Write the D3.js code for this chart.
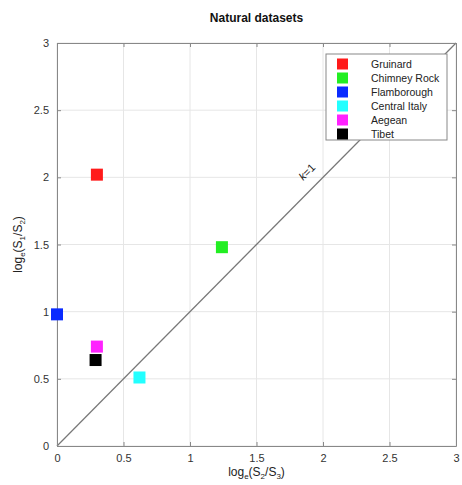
<!DOCTYPE html>
<html>
<head>
<meta charset="utf-8">
<script src="https://cdn.jsdelivr.net/npm/d3@7"></script>
<style>
	body { margin: 0; background: #fff; }
	text { font-family: "Liberation Sans", Arial, Helvetica, sans-serif; }
</style>
</head>
<body>
<div id="chart"></div>
<script>
// datasets and their log ratios
const names = ["Gruinard", "Chimney Rock", "Flamborough", "Central Italy", "Aegean", "Tibet"];
const colors = ["#ff1a1a", "#22ee22", "#0a2bff", "#22ffff", "#ff22ff", "#000000"];
const xVals = [0.30, 1.24, 0.00, 0.62, 0.30, 0.29];   // log_e(S2/S3)
const yVals = [2.02, 1.48, 0.98, 0.51, 0.74, 0.64];   // log_e(S1/S2)
const ticks = [0, 0.5, 1, 1.5, 2, 2.5, 3];

let dims = {width: 462, height: 485, margin: {left: 57, top: 43, right: 6, bottom: 39}};
let w = dims.width - dims.margin.left - dims.margin.right;
let h = dims.height - dims.margin.top - dims.margin.bottom;

let xScale = d3.scaleLinear().domain([0, 3]).range([0, w]);
let yScale = d3.scaleLinear().domain([0, 3]).range([h, 0]);

let svg = d3.select("#chart").append("svg")
	.attr("width", dims.width)
	.attr("height", dims.height);

let g = svg.append("g")
	.attr("transform", `translate(${dims.margin.left},${dims.margin.top})`);

// grid
g.append("g").selectAll("line.gx").data(ticks).enter().append("line")
	.attr("x1", d => xScale(d)).attr("x2", d => xScale(d))
	.attr("y1", 0).attr("y2", h)
	.attr("stroke", "#e6e6e6");
g.append("g").selectAll("line.gy").data(ticks).enter().append("line")
	.attr("y1", d => yScale(d)).attr("y2", d => yScale(d))
	.attr("x1", 0).attr("x2", w)
	.attr("stroke", "#e6e6e6");

// k=1 line
g.append("line")
	.attr("x1", xScale(0)).attr("y1", yScale(0))
	.attr("x2", xScale(3)).attr("y2", yScale(3))
	.attr("stroke", "#777").attr("stroke-width", 1.2);

let kx = xScale(1.9), ky = yScale(2.02);
let kt = g.append("text")
	.attr("transform", `translate(${kx},${ky}) rotate(-45)`)
	.attr("text-anchor", "middle")
	.attr("font-size", 11)
	.attr("fill", "#222");
kt.append("tspan").attr("font-style", "italic").text("k");
kt.append("tspan").text("=1");

// axes (MATLAB style, inward ticks, box on)
let axisStyle = sel => {
	sel.select(".domain").attr("stroke", "#888");
	sel.selectAll(".tick line").attr("stroke", "#888");
	sel.selectAll(".tick text").attr("fill", "#333").attr("font-size", 11);
};
let fmt = d3.format("~g");
g.append("g").attr("transform", `translate(0,${h})`)
	.call(d3.axisBottom(xScale).tickValues(ticks).tickFormat(fmt).tickSizeInner(-4).tickSizeOuter(0).tickPadding(8))
	.call(axisStyle);
g.append("g")
	.call(d3.axisLeft(yScale).tickValues(ticks).tickFormat(fmt).tickSizeInner(-4).tickSizeOuter(0).tickPadding(8))
	.call(axisStyle);
g.append("g")
	.call(d3.axisTop(xScale).tickValues(ticks).tickFormat("").tickSizeInner(-4).tickSizeOuter(0))
	.call(axisStyle);
g.append("g").attr("transform", `translate(${w},0)`)
	.call(d3.axisRight(yScale).tickValues(ticks).tickFormat("").tickSizeInner(-4).tickSizeOuter(0))
	.call(axisStyle);

// points
let pts = names.map((n, i) => ({name: n, color: colors[i], x: xVals[i], y: yVals[i]}));
let s = 12;
g.selectAll("rect.pt").data(pts).enter().append("rect")
	.classed("pt", true)
	.attr("x", d => xScale(d.x) - s / 2)
	.attr("y", d => yScale(d.y) - s / 2)
	.attr("width", s).attr("height", s)
	.attr("fill", d => d.color);

// legend
let lg = g.append("g").attr("transform", `translate(${w - 130},11)`);
lg.append("rect")
	.attr("width", 121).attr("height", 86)
	.attr("fill", "#fff").attr("stroke", "#888");
let items = lg.selectAll("g.item").data(pts).enter().append("g")
	.attr("transform", (d, i) => `translate(0,${10 + i * 14})`);
items.append("rect")
	.attr("x", 11).attr("y", -5.5).attr("width", 11).attr("height", 11)
	.attr("fill", d => d.color);
items.append("text")
	.attr("x", 45).attr("y", 4)
	.attr("font-size", 10.5).attr("fill", "#222")
	.text(d => d.name);

// title
svg.append("text")
	.attr("x", dims.margin.left + w / 2).attr("y", 22)
	.attr("text-anchor", "middle")
	.attr("font-size", 12).attr("font-weight", "bold").attr("fill", "#111")
	.text("Natural datasets");

// axis labels with subscripts
function subLabel(t, parts) {
	parts.forEach(p => {
		let ts = t.append("tspan").text(p[0]);
		if (p[1]) ts.attr("font-size", 8).attr("dy", 3);
		else if (p[2]) ts.attr("dy", -3);
	});
}
let xl = svg.append("text")
	.attr("x", dims.margin.left + w / 2).attr("y", dims.height - 9)
	.attr("text-anchor", "middle").attr("font-size", 12).attr("fill", "#222");
subLabel(xl, [["log"], ["e", 1], ["(S", 0, 1], ["2", 1], ["/S", 0, 1], ["3", 1], [")", 0, 1]]);

let yl = svg.append("text")
	.attr("transform", `translate(22,${dims.margin.top + h / 2}) rotate(-90)`)
	.attr("text-anchor", "middle").attr("font-size", 12).attr("fill", "#222");
subLabel(yl, [["log"], ["e", 1], ["(S", 0, 1], ["1", 1], ["/S", 0, 1], ["2", 1], [")", 0, 1]]);
</script>
</body>
</html>
